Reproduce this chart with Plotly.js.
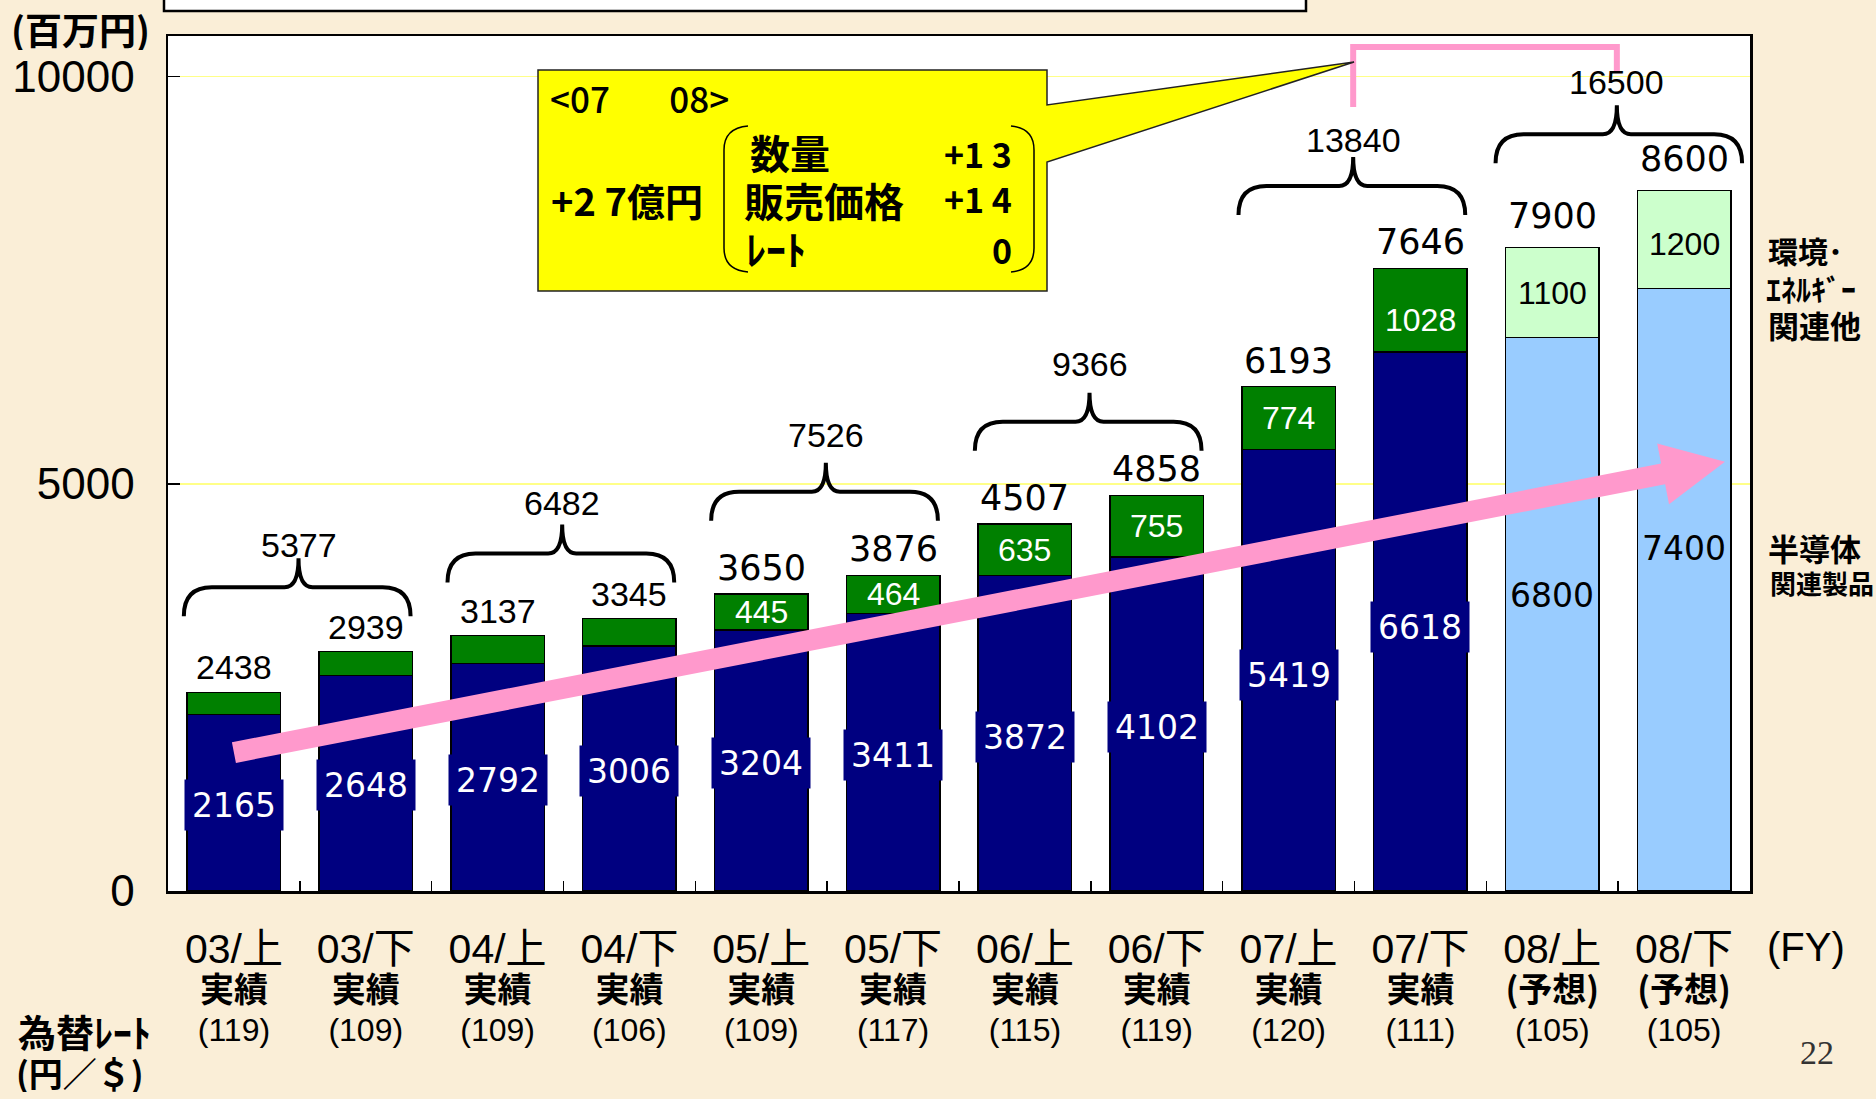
<!DOCTYPE html>
<html><head><meta charset="utf-8">
<script src="https://cdn.plot.ly/plotly-3.0.1.min.js"></script>
<style>html,body{margin:0;padding:0;background:#faeed7;} #chart{width:1876px;height:1099px;}</style>
</head><body><div id="chart"></div>
<script>
// ---------------- data ----------------
const periods = ['03/上','03/下','04/上','04/下','05/上','05/下','06/上','06/下','07/上','07/下','08/上','08/下'];
const status = ['実績','実績','実績','実績','実績','実績','実績','実績','実績','実績','(予想)','(予想)'];
const fxRates = [119,109,109,106,109,117,115,119,120,111,105,105];
const semiconductor = [2165,2648,2792,3006,3204,3411,3872,4102,5419,6618,6800,7400];
const envEnergyOther = [273,291,345,339,445,464,635,755,774,1028,1100,1200];
const halfTotals = [2438,2939,3137,3345,3650,3876,4507,4858,6193,7646,7900,8600];
const yearTotals = [5377,6482,7526,9366,13840,16500];
const isForecast = [false,false,false,false,false,false,false,false,false,false,true,true];
const envLabelShown = [false,false,false,false,true,true,true,true,true,true,true,true];

// ---------------- layout constants ----------------
const W = 1876, H = 1099;
const M = {l:168, r:126, t:36, b:208};
const plotW = W - M.l - M.r, plotH = H - M.t - M.b;
const yTop = 10500;
const nCat = periods.length;
const pxPerIdx = plotW / nCat, pxPerVal = plotH / yTop;
const pX = px => (px - M.l) / plotW;          // pixel -> paper x
const pY = py => (M.t + plotH - py) / plotH;  // pixel -> paper y
const dX = p => p / pxPerIdx;                 // px -> category units
const dY = p => p / pxPerVal;                 // px -> value units

const JP = 'Noto Sans CJK JP';
const ARIAL = 'Liberation Sans';
const VERD = 'DejaVu Sans';

// ---------------- traces ----------------
const traces = [
  {type:'bar', x:periods, y:semiconductor, name:'半導体関連製品',
   marker:{color:isForecast.map(f => f ? '#99ccff' : '#000080'), line:{color:'#000', width:1.5}},
   hoverinfo:'none'},
  {type:'bar', x:periods, y:envEnergyOther, name:'環境・エネルギー関連他',
   marker:{color:isForecast.map(f => f ? '#ccffcc' : '#008000'), line:{color:'#000', width:1.5}},
   hoverinfo:'none'}
];

// ---------------- annotations ----------------
const ann = [];
const semiLabelFrac = [0.49,0.49,0.49,0.49,0.49,0.49,0.49,0.49,0.49,0.49,0.535,0.57];
const envLabelFrac = [0.5,0.5,0.5,0.5,0.5,0.5,0.5,0.5,0.5,0.38,0.5,0.45];
periods.forEach((p, i) => {
  const f = isForecast[i];
  ann.push({x:p, y:semiconductor[i]*semiLabelFrac[i], xref:'x', yref:'y', text:String(semiconductor[i]),
    showarrow:false, font:{family:VERD, size:33, color:f ? '#000' : '#fff'},
    bgcolor:f ? 'rgba(0,0,0,0)' : '#000080', width:98, height:50, borderpad:0});
  if (envLabelShown[i]) {
    ann.push({x:p, y:semiconductor[i] + envEnergyOther[i]*envLabelFrac[i], xref:'x', yref:'y', text:String(envEnergyOther[i]),
      showarrow:false, font:{family:ARIAL, size:32, color:f ? '#000' : '#fff'}});
  }
  ann.push({x:p, y:halfTotals[i], xref:'x', yref:'y', text:String(halfTotals[i]), showarrow:false,
    yanchor:'bottom', yshift:f ? 10 : 4,
    font:{family:i < 4 ? ARIAL : VERD, size:i < 4 ? 34 : 35, color:'#000'}});
});

// braces over each fiscal year
const braceBase = [3373, 3790, 4547, 5407, 8302, 8936];
const braceLabelShift = [-8, 0, 7, 8, -4, 2];
const shapes = [];
const braceTip = [];
yearTotals.forEach((t, k) => {
  const i0 = 2*k;
  const xl = i0 - (k === 5 ? 0.43 : 0.38), xr = i0 + (k === 5 ? 1.44 : 1.34), xm = i0 + 0.49;
  const yb = braceBase[k], yh = yb + dY(29), yt = yb + dY(58);
  const r = dX(28), r2 = dX(14);
  braceTip.push({x:xm, y:yt});
  shapes.push({type:'path', xref:'x', yref:'y', layer:'above', line:{color:'#000', width:4},
    path:`M ${xl},${yb} Q ${xl},${yh} ${xl+r},${yh} L ${xm-r2},${yh} Q ${xm},${yh} ${xm},${yt} Q ${xm},${yh} ${xm+r2},${yh} L ${xr-r},${yh} Q ${xr},${yh} ${xr},${yb}`});
  ann.push({x:xm, y:yt, xref:'x', yref:'y', text:String(t), showarrow:false, yanchor:'bottom', yshift:braceLabelShift[k],
    font:{family:ARIAL, size:34, color:'#000'}});
});

// pink connector between 07 and 08 totals
{
  const a = braceTip[4], b = braceTip[5];
  const yTopC = dY(891 - 47);
  shapes.push({type:'path', xref:'x', yref:'y', layer:'above', line:{color:'#ff99cc', width:6},
    path:`M ${a.x},${a.y + dY(50)} L ${a.x},${yTopC} L ${b.x},${yTopC} L ${b.x},${b.y + dY(34)}`});
}

// pink trend arrow
{
  const from = {i:0, v:1700}, to = {i:11.31, v:5270};
  const tx = (to.i - from.i) * pxPerIdx, ty = -(to.v - from.v) * pxPerVal;
  const L = Math.hypot(tx, ty), ux = tx / L, uy = ty / L, nx = -uy, ny = ux;
  const hw = 10.5, hl = 63, hh = 31;
  const bx = tx - ux*hl, by = ty - uy*hl;
  const pts = [
    [nx*hw, ny*hw], [bx + nx*hw, by + ny*hw], [bx + nx*hh, by + ny*hh], [tx, ty],
    [bx - nx*hh, by - ny*hh], [bx - nx*hw, by - ny*hw], [-nx*hw, -ny*hw]
  ].map(([x, y]) => [from.i + x / pxPerIdx, from.v - y / pxPerVal]);
  shapes.push({type:'path', xref:'x', yref:'y', layer:'above', fillcolor:'#ff99cc', line:{width:0},
    path:'M ' + pts.map(p => p[0] + ',' + p[1]).join(' L ') + ' Z'});
}

// callout box with pointer
{
  const P = (x, y) => pX(x) + ',' + pY(y);
  shapes.push({type:'path', xref:'paper', yref:'paper', layer:'above', fillcolor:'#ffff00',
    line:{color:'#222', width:1.5},
    path:`M ${P(538,70)} L ${P(1047,70)} L ${P(1047,105)} L ${P(1354,62)} L ${P(1047,162)} L ${P(1047,291)} L ${P(538,291)} Z`});
  shapes.push({type:'path', xref:'paper', yref:'paper', layer:'above', line:{color:'#000', width:1.5},
    path:`M ${P(748,126)} Q ${P(724,128)} ${P(724,150)} L ${P(724,248)} Q ${P(724,270)} ${P(748,272)}`});
  shapes.push({type:'path', xref:'paper', yref:'paper', layer:'above', line:{color:'#000', width:1.5},
    path:`M ${P(1011,126)} Q ${P(1034,128)} ${P(1034,150)} L ${P(1034,248)} Q ${P(1034,270)} ${P(1011,272)}`});
  // top slide title box (cut off)
  shapes.push({type:'rect', xref:'paper', yref:'paper', layer:'above', fillcolor:'#ffffff',
    line:{color:'#000', width:2.5}, x0:pX(164), x1:pX(1306), y0:pY(11), y1:pY(-20)});
}

const txt = (text, x, y, size, opts = {}) => ann.push(Object.assign({
  text, x:pX(x), y:pY(y), xref:'paper', yref:'paper', showarrow:false, xanchor:'left', yanchor:'middle',
  height:Math.round(size*1.15), font:{family:JP, size, color:'#000', weight:'bold'}}, opts));

txt('&lt;07\u3000\u2002\u200908&gt;', 548, 97, 35, {font:{family:JP, size:35, color:'#000', weight:500}});
txt('+2 7億円', 549, 199, 38);
txt('数量', 748, 152, 40);
txt('販売価格', 742, 200, 40);
txt('ﾚｰﾄ', 744, 248, 40);
txt('+1 3', 1014, 153, 34, {xanchor:'right'});
txt('+1 4', 1014, 198, 34, {xanchor:'right'});
txt('0', 1014, 249, 34, {xanchor:'right'});

txt('(百万円)', 9, 29, 37);
txt('環境･', 1766, 249, 30);
txt('ｴﾈﾙｷﾞｰ', 1764, 287, 30);
txt('関連他', 1766, 324, 31);
txt('半導体', 1766, 547, 31);
txt('関連製品', 1768, 582, 26);
txt('為替ﾚｰﾄ', 16, 1030, 38);
txt('(円／＄)', 14, 1072, 34);
txt('(FY)', 1765, 947, 40, {font:{family:ARIAL, size:40, color:'#000'}});
txt('22', 1798, 1052, 34, {font:{family:'Liberation Serif', size:34, color:'#333'}});

// ---------------- tick labels ----------------
const tickText = periods.map((p, i) =>
  `<span style="font-size:41px">${p}</span><br><b><span style="font-size:34px;font-family:'${JP}'">${status[i]}</span></b><br><span style="font-size:32px">(${fxRates[i]})</span>`);

const layout = {
  width:W, height:H, margin:M,
  paper_bgcolor:'#faeed7', plot_bgcolor:'#ffffff',
  font:{family:`${ARIAL}, ${JP}`, color:'#000'},
  barmode:'stack', bargap:0.29, showlegend:false, hovermode:false,
  xaxis:{type:'category', range:[-0.5, nCat - 0.5], tickmode:'array', tickvals:periods, ticktext:tickText,
    ticks:'inside', tickson:'boundaries', ticklen:10, tickwidth:1.5, tickcolor:'#000',
    showline:true, mirror:true, linecolor:'#000', linewidth:2.5, showgrid:false,
    tickfont:{family:`${ARIAL}, ${JP}`, size:30, color:'#000'}, ticklabelstandoff:33, automargin:false},
  yaxis:{range:[0, yTop], tickvals:[0,5000,10000], ticktext:['0','5000','10000'],
    ticks:'inside', ticklen:12, tickwidth:1.5, tickcolor:'#000',
    showline:true, mirror:true, linecolor:'#000', linewidth:2.5,
    showgrid:true, gridcolor:'#ffff88', gridwidth:1.5, zeroline:false,
    tickfont:{family:ARIAL, size:44, color:'#000'}, ticklabelstandoff:22, automargin:false},
  shapes, annotations:ann
};

Plotly.newPlot('chart', traces, layout, {staticPlot:true, displayModeBar:false});
</script>
</body></html>
